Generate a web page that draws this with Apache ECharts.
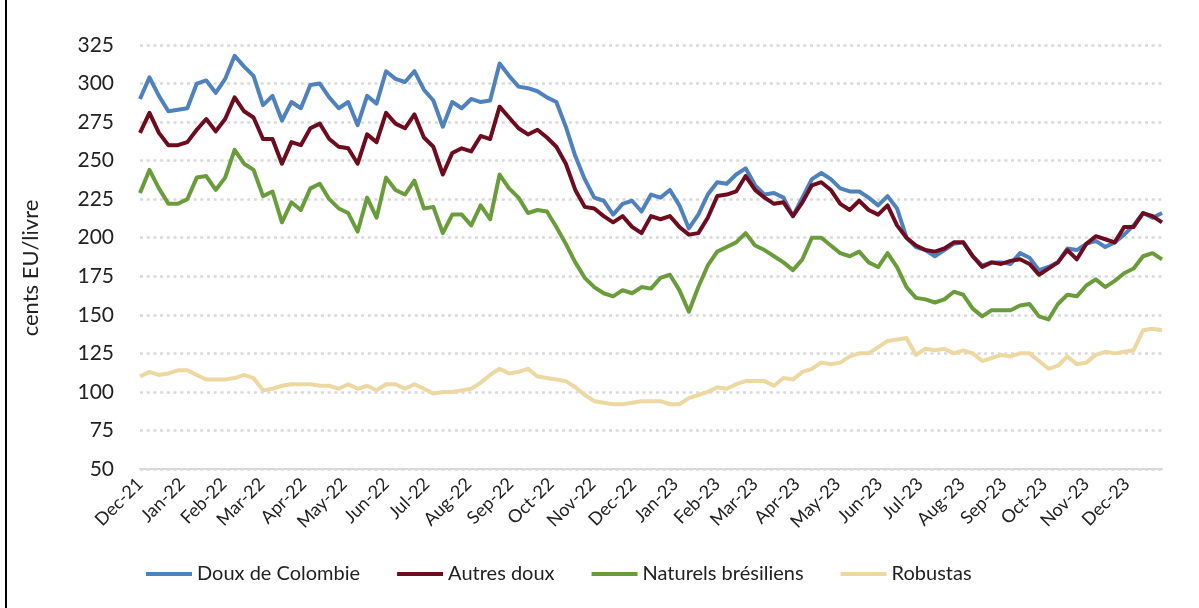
<!DOCTYPE html>
<html>
<head>
<meta charset="utf-8">
<script src="https://cdn.jsdelivr.net/npm/echarts@6/dist/echarts.min.js"></script>
<style>
  html, body { margin: 0; padding: 0; background: #fff; }
  #chart { width: 1199px; height: 608px; }
</style>
</head>
<body>
<div id="chart"></div>
<script>
// weekly readings, first point 1 Dec 2021, one every 7 days
const startDay = '2021-12-01';
const stepDays = 7;
const monthNames = ['Jan', 'Feb', 'Mar', 'Apr', 'May', 'Jun', 'Jul', 'Aug', 'Sep', 'Oct', 'Nov', 'Dec'];

const seriesNames = ['Doux de Colombie', 'Autres doux', 'Naturels brésiliens', 'Robustas'];

const douxColombie = [
  290, 304, 292, 282, 283, 284, 300, 302, 294, 303, 318, 311, 305, 286, 292, 276, 288, 284, 299, 300,
  291, 284, 288, 273, 292, 287, 308, 303, 301, 308, 296, 289, 272, 288, 284, 290, 288, 289, 313, 305,
  298, 297, 295, 291, 288, 272, 253, 238, 226, 224, 215, 222, 224, 217, 228, 226, 231, 221, 206, 215,
  228, 236, 235, 241, 245, 234, 228, 229, 226, 214, 226, 238, 242, 238, 232, 230, 230, 226, 221, 227,
  219, 200, 194, 192, 188, 192, 196, 197, 188, 182, 184, 184, 183, 190, 187, 179, 181, 184, 193, 192,
  196, 198, 194, 197, 202, 208, 216, 213, 216
];
const autresDoux = [
  268, 281, 268, 260, 260, 262, 270, 277, 269, 277, 291, 282, 278, 264, 264, 248, 262, 260, 271, 274,
  264, 259, 258, 248, 267, 262, 281, 274, 271, 280, 265, 259, 241, 255, 258, 256, 266, 264, 285, 278,
  271, 267, 270, 265, 259, 248, 231, 220, 219, 214, 210, 214, 207, 203, 214, 212, 214, 207, 202, 203,
  213, 227, 228, 230, 240, 231, 226, 222, 223, 214, 223, 234, 236, 231, 222, 218, 224, 218, 215, 221,
  208, 200, 195, 192, 191, 193, 197, 197, 188, 181, 184, 183, 185, 186, 183, 176, 180, 184, 192, 186,
  196, 201, 199, 197, 207, 207, 216, 214, 210
];
const naturelsBresiliens = [
  229, 244, 232, 222, 222, 225, 239, 240, 231, 239, 257, 248, 244, 227, 230, 210, 223, 218, 232, 235,
  225, 219, 216, 204, 226, 213, 239, 231, 228, 237, 219, 220, 203, 215, 215, 208, 221, 212, 241, 232,
  226, 216, 218, 217, 207, 196, 184, 174, 168, 164, 162, 166, 164, 168, 167, 174, 176, 166, 152, 168,
  182, 191, 194, 197, 203, 195, 192, 188, 184, 179, 186, 200, 200, 195, 190, 188, 191, 184, 181, 190,
  181, 168, 161, 160, 158, 160, 165, 163, 154, 149, 153, 153, 153, 156, 157, 149, 147, 157, 163, 162,
  169, 173, 168, 172, 177, 180, 188, 190, 186
];
const robustas = [
  110, 113, 111, 112, 114, 114, 111, 108, 108, 108, 109, 111, 109, 101, 102, 104, 105, 105, 105, 104,
  104, 102, 105, 102, 104, 101, 105, 105, 102, 105, 102, 99, 100, 100, 101, 102, 106, 111, 115, 112,
  113, 115, 110, 109, 108, 107, 103, 98, 94, 93, 92, 92, 93, 94, 94, 94, 92, 92, 96, 98,
  100, 103, 102, 105, 107, 107, 107, 104, 109, 108, 113, 115, 119, 118, 119, 123, 125, 125, 129, 133,
  134, 135, 124, 128, 127, 128, 125, 127, 125, 120, 122, 124, 123, 125, 125, 120, 115, 117, 123, 118,
  119, 124, 126, 125, 126, 127, 140, 141, 140
];

const yTicks = [50, 75, 100, 125, 150, 175, 200, 225, 250, 275, 300, 325];

// daily category axis, so month labels sit on the 1st of each month
const days = [];
const t0 = Date.parse(startDay + 'T00:00:00Z');
const totalDays = (douxColombie.length - 1) * stepDays;
for (let i = 0; i <= totalDays; i++) {
  days.push(new Date(t0 + i * 86400000).toISOString().slice(0, 10));
}

const toPoints = (arr) => arr.map((v, i) => [i * stepDays, v]);

const colors = ['#4f81bd', '#6d0b1f', '#6b9c3b', '#eed8a2'];
const allData = [douxColombie, autresDoux, naturelsBresiliens, robustas];
const zOrder = [3, 4, 2, 1]; // red over blue, green and robustas below

const myChart = echarts.init(document.getElementById('chart'));
const option = {
  animation: false,
  textStyle: { fontFamily: 'Lato' },
  graphic: [
    {
      type: 'line',
      shape: { x1: 6, y1: 0, x2: 6, y2: 608 },
      style: { stroke: '#000', lineWidth: 2 },
    },
    {
      // axis title
      type: 'text',
      x: 31,
      y: 268,
      rotation: Math.PI / 2,
      style: {
        text: 'cents EU/livre',
        fontSize: 22,
        fontFamily: 'Lato',
        fill: '#222',
        align: 'center',
        verticalAlign: 'middle',
      },
    },
  ],
  grid: {
    left: 140,
    right: 37,
    top: 45,
    bottom: 139,
  },
  legend: {
    left: 141,
    top: 559,
    icon: 'rect',
    itemWidth: 46,
    itemHeight: 4,
    itemGap: 37,
    textStyle: { fontSize: 20, color: '#222', fontFamily: 'Lato' },
    data: seriesNames,
  },
  xAxis: {
    type: 'category',
    boundaryGap: false,
    data: days,
    axisLine: { lineStyle: { color: '#d9d9d9', width: 2 } },
    axisTick: { show: false },
    splitLine: { show: false },
    axisLabel: {
      interval: (idx, val) => val.slice(8) === '01',
      rotate: 45,
      margin: 12,
      fontSize: 18,
      color: '#222',
      formatter: (val) => monthNames[+val.slice(5, 7) - 1] + '-' + val.slice(2, 4),
    },
  },
  yAxis: {
    type: 'value',
    min: yTicks[0],
    max: yTicks[yTicks.length - 1],
    interval: 25,
    axisLine: { show: false },
    axisTick: { show: false },
    axisLabel: { fontSize: 21, color: '#222', margin: 26 },
    splitLine: {
      lineStyle: { color: '#d9d9d9', width: 2.5, type: [3, 3.7] },
    },
  },
  series: seriesNames.map((name, k) => ({
    name,
    type: 'line',
    showSymbol: false,
    symbol: 'none',
    data: toPoints(allData[k]),
    lineStyle: { color: colors[k], width: 4, join: 'round' },
    itemStyle: { color: colors[k] },
    z: zOrder[k],
  })),
};
myChart.setOption(option);
</script>
</body>
</html>
